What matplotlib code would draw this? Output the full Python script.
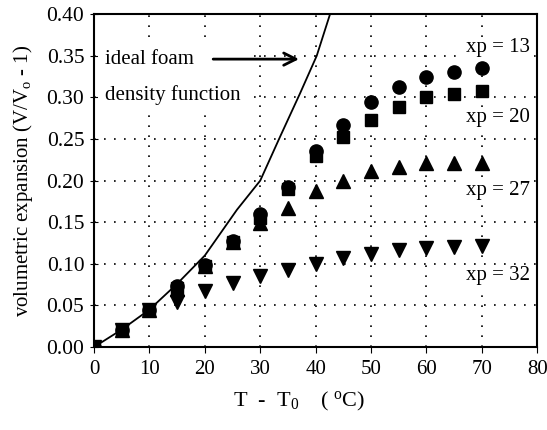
import matplotlib
matplotlib.use("Agg")
import matplotlib.pyplot as plt

plt.rcParams['font.family'] = ['Liberation Serif']
plt.rcParams['mathtext.fontset'] = 'custom'
plt.rcParams['mathtext.rm'] = 'Liberation Serif'
plt.rcParams['mathtext.it'] = 'Liberation Serif'

# temperature difference T - T0 (deg C)
temp = [0, 5, 10, 15, 20, 25, 30, 35, 40, 45, 50, 55, 60, 65, 70]

# volumetric expansion for each xp value
xp13 = [0, 0.021, 0.045, 0.073, 0.098, 0.127, 0.160, 0.192, 0.235, 0.267, 0.295, 0.312, 0.325, 0.331, 0.335]
xp20 = [0, 0.021, 0.045, 0.071, 0.097, 0.126, 0.155, 0.190, 0.229, 0.253, 0.273, 0.288, 0.300, 0.304, 0.308]
xp27 = [0, 0.021, 0.045, 0.070, 0.097, 0.126, 0.149, 0.167, 0.188, 0.200, 0.211, 0.216, 0.221, 0.221, 0.221]
xp32 = [0, 0.021, 0.045, 0.054, 0.067, 0.077, 0.085, 0.093, 0.100, 0.107, 0.112, 0.117, 0.119, 0.120, 0.121]

# ideal foam density function
ideal_x = [0, 5, 10, 15, 20, 25.8, 30, 33.6, 37.2, 40.2, 42.6]
ideal_y = [0, 0.021, 0.045, 0.076, 0.110, 0.165, 0.200, 0.253, 0.305, 0.350, 0.400]

fig = plt.figure(figsize=(5.47, 4.30), dpi=100)
ax = fig.add_axes([0.172, 0.193, 0.81, 0.774])

ax.plot(ideal_x, ideal_y, color='black', lw=1.3, zorder=2)
ax.plot(temp, xp13, 'o', color='black', ms=9.5, zorder=3)
ax.plot(temp, xp20, 's', color='black', ms=8.5, zorder=3)
ax.plot(temp, xp27, '^', color='black', ms=9.5, zorder=3)
ax.plot(temp, xp32, 'v', color='black', ms=9.5, zorder=3)

ax.set_xlim(0, 80)
ax.set_ylim(0, 0.40)
ax.set_xticks(range(0, 81, 10))
ax.set_yticks([i * 0.05 for i in range(9)])
ax.yaxis.set_major_formatter(plt.FormatStrFormatter('%.2f'))
ax.grid(True, color='black', linestyle=(0, (1, 5)), lw=1.2)
ax.tick_params(axis='x', direction='out', labelsize=15, length=4, pad=5)
ax.tick_params(axis='y', direction='inout', labelsize=15.5, length=6, pad=4)
for s in ax.spines.values():
    s.set_linewidth(1.5)

ax.set_xlabel('T  -  T$_0$    ( $^{\\rm o}$C)', fontsize=16)
ax.xaxis.set_label_coords(0.463, -0.13)
ax.set_ylabel('volumetric expansion (V/V$_{\\rm o}$ - 1)', fontsize=15, labelpad=8)

ax.text(2.0, 0.297, 'ideal foam\n\ndensity function', fontsize=15, linespacing=0.9,
        va='baseline', zorder=2.5,
        bbox=dict(facecolor='white', edgecolor='none', pad=5))
ax.annotate('', xy=(37.5, 0.346), xytext=(21, 0.346), zorder=4,
            arrowprops=dict(arrowstyle='->', lw=2, color='black', mutation_scale=22))

for label, y in [('xp = 13', 0.354), ('xp = 20', 0.270), ('xp = 27', 0.183), ('xp = 32', 0.080)]:
    ax.text(78.7, y, label, fontsize=15, ha='right', va='baseline', zorder=2.5,
            bbox=dict(facecolor='white', edgecolor='none', pad=1))

plt.savefig('out.png', dpi=100)
